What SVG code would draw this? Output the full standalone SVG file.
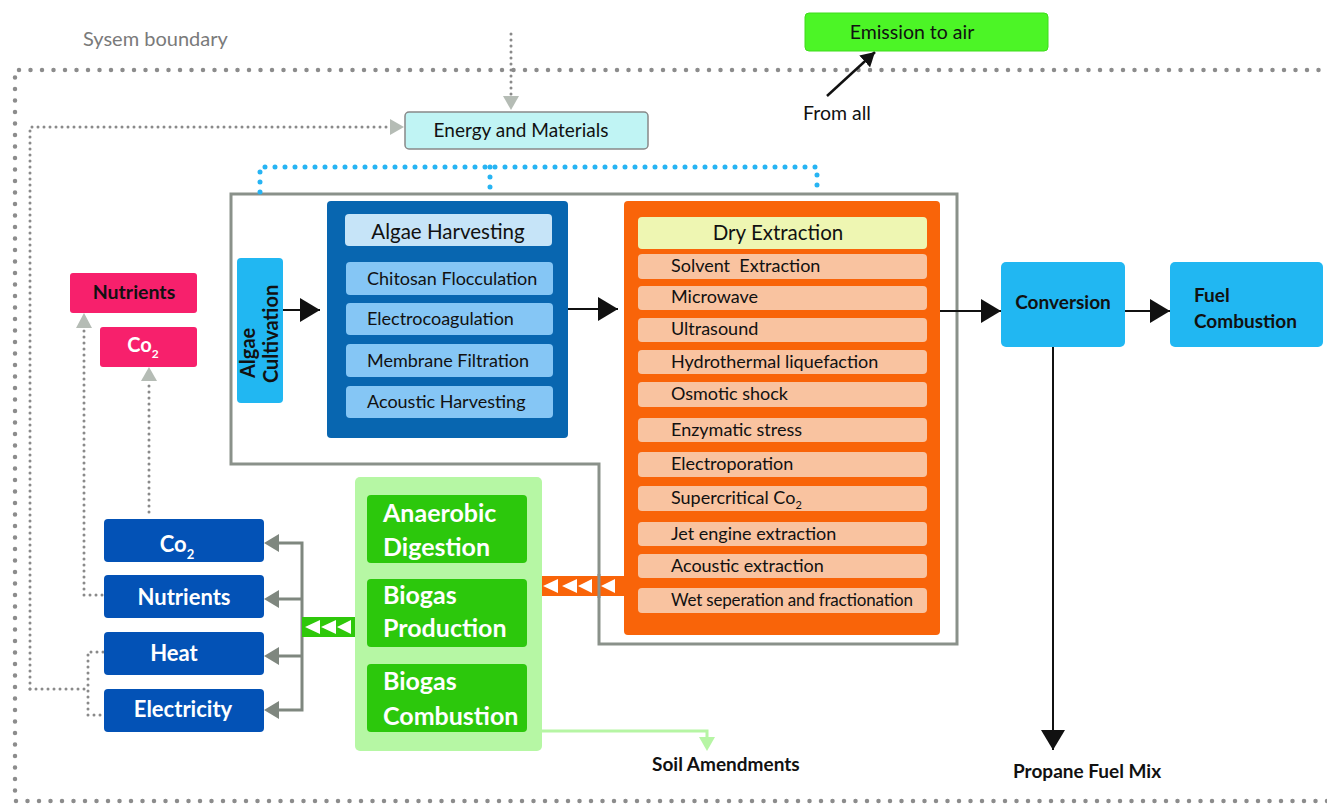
<svg xmlns="http://www.w3.org/2000/svg" width="1327" height="804" viewBox="0 0 1327 804">
<defs>
<style>
text{font-family:Lato,"Open Sans","Liberation Sans",sans-serif;fill:#111}
.t18{font-size:18px}
.t20{font-size:20px}
.b{font-weight:bold}
.w{fill:#fff}
.bnd{fill:none;stroke:#8c8c8c;stroke-width:4.5;stroke-linecap:round;stroke-dasharray:0 11.5}
.dot{fill:none;stroke:#8a8a8a;stroke-width:3;stroke-linecap:round;stroke-dasharray:0 6}
.bdot{fill:none;stroke:#27b4f3;stroke-width:5;stroke-linecap:round;stroke-dasharray:0 10}
.blk{fill:none;stroke:#111;stroke-width:2}
.gry{fill:none;stroke:#7f877f;stroke-width:3}
.hi{fill:#c6e4f8}
.hitem{fill:#85c6f5}
.ditem{fill:#f9c3a0}
.cyan{fill:#21b7f2}
.pink{fill:#f7206c}
.dblue{fill:#0352b6}
.gin{fill:#2cc80c}
</style>
<marker id="ah" markerWidth="20" markerHeight="24" refX="20" refY="12" orient="auto" markerUnits="userSpaceOnUse"><path d="M0,0 L20,12 L0,24 z" fill="#111"/></marker>
<marker id="ahs" markerWidth="14" markerHeight="16" refX="14" refY="8" orient="auto" markerUnits="userSpaceOnUse"><path d="M0,0 L14,8 L0,16 z" fill="#111"/></marker>
</defs>

<!-- system boundary -->
<g id="boundary">
<path class="bnd" d="M1330,70 L15,70 L15,801 L1330,801"/>
<text x="83" y="46" class="t20" style="fill:#7a7a7a">Sysem boundary</text>
</g>

<!-- process boundary -->
<path d="M231,194 L957,194 L957,644 L599,644 L599,464 L231,464 Z" fill="none" stroke="#8a918a" stroke-width="3"/>

<g id="connectors">
<!-- top input to energy -->
<path class="dot" d="M511,34 L511,96"/>
<path d="M503,96 L519,96 L511,110 z" fill="#b5bcb5"/>
<!-- left loop to energy -->
<path class="dot" d="M30,689 L30,127 L390,127"/>
<path d="M390,119 L404,127 L390,135 z" fill="#b5bcb5"/>
<path class="dot" d="M30,689 L88,689"/>
<path class="dot" d="M103,652 L88,652 L88,715 L103,715"/>
<!-- nutrients loop -->
<path class="dot" d="M102,595 L84,595 L84,328"/>
<path d="M76,328 L92,328 L84,313 z" fill="#b5bcb5"/>
<!-- co2 loop -->
<path class="dot" d="M149,512 L149,381"/>
<path d="M141,381 L157,381 L149,367 z" fill="#b5bcb5"/>
<!-- blue dotted energy distribution -->
<path class="bdot" d="M260,192 L260,167 L817,167 L817,190"/>
<path class="bdot" d="M490,167 L490,192"/>
<!-- main flow -->
<path class="blk" d="M283,310 L320,310" marker-end="url(#ah)"/>
<path class="blk" d="M568,309 L618,309" marker-end="url(#ah)"/>
<path class="blk" d="M940,311 L1001,311" marker-end="url(#ah)"/>
<path class="blk" d="M1125,311 L1170,311" marker-end="url(#ah)"/>
<path class="blk" d="M1053,347 L1053,750" marker-end="url(#ah)"/>
<!-- emission arrow -->
<path d="M827,96 L875,52" fill="none" stroke="#111" stroke-width="2.5" marker-end="url(#ahs)"/>
<!-- biogas outputs -->
<path class="gry" d="M278,543 L302,543 L302,710 L278,710 M302,599 L278,599 M302,656 L278,656"/>
<path d="M279,534 L264,543 L279,552 z M279,590 L264,599 L279,608 z M279,647 L264,656 L279,665 z M279,701 L264,710 L279,719 z" fill="#7f877f"/>
<!-- green bar -->
<rect x="302" y="617" width="53" height="20" fill="#2ec80a"/>
<path d="M305,627 L320,620 L320,634 z M321,627 L336,620 L336,634 z M337,627 L351,620 L351,634 z" fill="#fff"/>
<!-- orange bar -->
<rect x="542" y="576" width="82" height="20" fill="#f96409"/>
<path d="M543,586 L558,579 L558,593 z M562,586 L577,579 L577,593 z M578,586 L592,579 L592,593 z M601,586 L615,579 L615,593 z" fill="#fff"/>
<line x1="599" y1="574" x2="599" y2="598" stroke="#8a918a" stroke-width="3"/>
<!-- soil amendments -->
<path d="M542,731 L707,731 L707,738" fill="none" stroke="#b6f5a4" stroke-width="3"/>
<path d="M699,737 L715,737 L707,751 z" fill="#b6f5a4"/>
</g>

<g id="emission">
<rect x="805" y="13" width="243" height="38" rx="4" fill="#4cf526" stroke="#3fdc1c" stroke-width="1"/>
<text x="912" y="39" style="font-size:19.5px" text-anchor="middle">Emission to air</text>
</g>
<text id="fromall" x="803" y="120" style="font-size:19.5px">From all</text>

<g id="energy">
<rect x="405" y="112" width="243" height="37" rx="4" fill="#c0f4f4" stroke="#888" stroke-width="1.5"/>
<text x="521" y="137" style="font-size:19px" text-anchor="middle">Energy and Materials</text>
</g>

<g id="cultivation">
<rect x="237" y="258" width="46" height="145" rx="4" class="cyan"/>
<text transform="translate(255,378) rotate(-90)" class="t20 b">Algae</text>
<text transform="translate(278,383) rotate(-90)" class="t20 b">Cultivation</text>
</g>

<g id="harvesting">
<rect x="327" y="201" width="241" height="237" rx="4" fill="#0866b0"/>
<rect x="345" y="214" width="207" height="32" rx="4" class="hi"/>
<text x="448" y="239" style="font-size:20.5px" text-anchor="middle">Algae Harvesting</text>
<rect x="346" y="262" width="207" height="33" rx="4" class="hitem"/>
<text x="367" y="285" class="t18">Chitosan Flocculation</text>
<rect x="346" y="303" width="207" height="32" rx="4" class="hitem"/>
<text x="367" y="325" class="t18">Electrocoagulation</text>
<rect x="346" y="344" width="207" height="33" rx="4" class="hitem"/>
<text x="367" y="367" class="t18">Membrane Filtration</text>
<rect x="346" y="386" width="207" height="32" rx="4" class="hitem"/>
<text x="367" y="408" class="t18">Acoustic Harvesting</text>
</g>

<g id="dryextraction">
<rect x="624" y="201" width="316" height="434" rx="4" fill="#f96409"/>
<rect x="638" y="217" width="289" height="32" rx="4" fill="#eef6b2"/>
<text x="778" y="240" style="font-size:20.5px" text-anchor="middle">Dry Extraction</text>
<rect x="638" y="254" width="289" height="25" rx="4" class="ditem"/>
<text x="671" y="272" class="t18" xml:space="preserve">Solvent  Extraction</text>
<rect x="638" y="286" width="289" height="24" rx="4" class="ditem"/>
<text x="671" y="303" class="t18">Microwave</text>
<rect x="638" y="318" width="289" height="24" rx="4" class="ditem"/>
<text x="671" y="335" class="t18">Ultrasound</text>
<rect x="638" y="350" width="289" height="24" rx="4" class="ditem"/>
<text x="671" y="368" class="t18">Hydrothermal liquefaction</text>
<rect x="638" y="382" width="289" height="25" rx="4" class="ditem"/>
<text x="671" y="400" class="t18">Osmotic shock</text>
<rect x="638" y="418" width="289" height="24" rx="4" class="ditem"/>
<text x="671" y="436" class="t18">Enzymatic stress</text>
<rect x="638" y="452" width="289" height="25" rx="4" class="ditem"/>
<text x="671" y="470" class="t18">Electroporation</text>
<rect x="638" y="486" width="289" height="25" rx="4" class="ditem"/>
<text x="671" y="504" class="t18">Supercritical Co<tspan dy="5" style="font-size:11px">2</tspan></text>
<rect x="638" y="522" width="289" height="24" rx="4" class="ditem"/>
<text x="671" y="540" class="t18">Jet engine extraction</text>
<rect x="638" y="554" width="289" height="24" rx="4" class="ditem"/>
<text x="671" y="572" class="t18">Acoustic extraction</text>
<rect x="638" y="588" width="289" height="25" rx="4" class="ditem"/>
<text x="671" y="606" style="font-size:17px" textLength="242">Wet seperation and fractionation</text>
</g>

<g id="conversion">
<rect x="1001" y="262" width="124" height="85" rx="5" class="cyan"/>
<text x="1063" y="309" class="b" style="font-size:19px" text-anchor="middle">Conversion</text>
</g>

<g id="fuelcombustion">
<rect x="1170" y="262" width="153" height="85" rx="5" class="cyan"/>
<text x="1194" y="302" class="b" style="font-size:19px">Fuel</text>
<text x="1194" y="328" class="b" style="font-size:19px">Combustion</text>
</g>

<text id="propane" x="1013" y="778" class="b" style="font-size:19px">Propane Fuel Mix</text>
<text id="soil" x="652" y="771" class="b" style="font-size:19px">Soil Amendments</text>

<g id="pink-nutrients">
<rect x="70" y="273" width="127" height="40" rx="3" class="pink"/>
<text x="134" y="299" class="b" style="font-size:19.5px" text-anchor="middle">Nutrients</text>
</g>
<g id="pink-co2">
<rect x="100" y="327" width="97" height="40" rx="3" class="pink"/>
<text x="143" y="352" class="w b" style="font-size:20px" text-anchor="middle">Co<tspan dy="6" style="font-size:12px">2</tspan></text>
</g>

<g id="out-co2">
<rect x="104" y="519" width="160" height="43" rx="4" class="dblue"/>
<text x="177" y="552" class="w b" style="font-size:22px" text-anchor="middle">Co<tspan dy="7" style="font-size:13px">2</tspan></text>
</g>
<g id="out-nutrients">
<rect x="104" y="575" width="160" height="43" rx="4" class="dblue"/>
<text x="184" y="605" class="w b" style="font-size:22px" text-anchor="middle">Nutrients</text>
</g>
<g id="out-heat">
<rect x="104" y="632" width="160" height="43" rx="4" class="dblue"/>
<text x="174" y="661" class="w b" style="font-size:22px" text-anchor="middle">Heat</text>
</g>
<g id="out-electricity">
<rect x="104" y="689" width="160" height="43" rx="4" class="dblue"/>
<text x="183" y="717" class="w b" style="font-size:22px" text-anchor="middle">Electricity</text>
</g>

<g id="biogas">
<rect x="355" y="477" width="187" height="274" rx="5" fill="#b6f7a4"/>
<rect x="367" y="495" width="160" height="68" rx="4" class="gin"/>
<text x="383" y="522" class="w b" style="font-size:25px">Anaerobic</text>
<text x="383" y="556" class="w b" style="font-size:25px">Digestion</text>
<rect x="367" y="579" width="160" height="68" rx="4" class="gin"/>
<text x="383" y="604" class="w b" style="font-size:25px">Biogas</text>
<text x="383" y="637" class="w b" style="font-size:25px">Production</text>
<rect x="367" y="664" width="160" height="68" rx="4" class="gin"/>
<text x="383" y="690" class="w b" style="font-size:25px">Biogas</text>
<text x="383" y="725" class="w b" style="font-size:25px">Combustion</text>
</g>
</svg>
